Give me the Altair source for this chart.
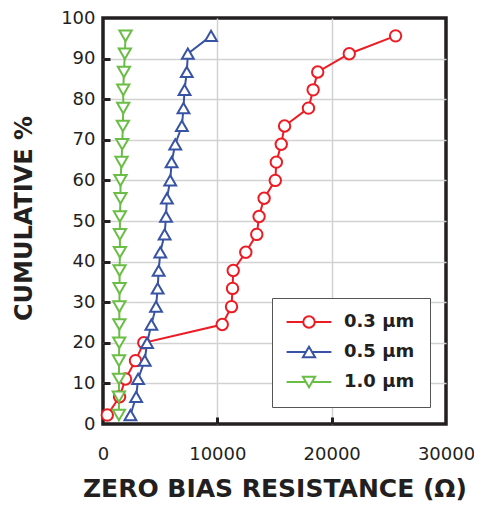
import altair as alt
import pandas as pd

# cumulative percentage (shared by all three series)
cum_pct = [2.2, 6.7, 11.1, 15.6, 20.0, 24.5, 28.9, 33.4, 37.8, 42.3, 46.7,
           51.1, 55.6, 60.0, 64.5, 68.9, 73.4, 77.8, 82.3, 86.7, 91.2, 95.6]
# zero bias resistance (ohm) for each diameter
r_03 = [375, 1450, 1970, 2840, 3565, 10430, 11240, 11330, 11390, 12490, 13450,
        13650, 14090, 15070, 15160, 15590, 15880, 17970, 18380, 18780, 21540, 25590]
r_05 = [2400, 2900, 3070, 3650, 3855, 4230, 4640, 4780, 4870, 5010, 5390,
        5510, 5590, 5880, 6000, 6320, 6900, 7040, 7130, 7330, 7420, 9450]
r_10 = [1390, 1390, 1400, 1400, 1420, 1430, 1430, 1450, 1450, 1480, 1480,
        1480, 1530, 1530, 1620, 1680, 1740, 1770, 1770, 1830, 1910, 1970]

series = ["0.3 μm", "0.5 μm", "1.0 μm"]
colors = ["#ed1c24", "#3953a4", "#6abd45"]
shapes = ["circle", "triangle-up", "triangle-down"]
x_ticks = [0, 10000, 20000, 30000]
y_ticks = [0, 10, 20, 30, 40, 50, 60, 70, 80, 90, 100]

rows = []
for s, vals in zip(series, [r_03, r_05, r_10]):
    for i, (p, r) in enumerate(zip(cum_pct, vals)):
        rows.append({"series": s, "pct": p, "r": r, "idx": i})
df = pd.DataFrame(rows)

INK = "#231f20"
FONT = "DejaVu Sans"

xscale = alt.Scale(domain=[0, 30000], nice=False)
yscale = alt.Scale(domain=[0, 100], nice=False)

edge_x = {"condition": {"test": "datum.value === 0 || datum.value === 30000", "value": 0}, "value": 1}
edge_y = {"condition": {"test": "datum.value === 0 || datum.value === 100", "value": 0}, "value": 1}

x_axis_main = alt.Axis(
    values=x_ticks, format="d", orient="bottom", title="ZERO BIAS RESISTANCE (Ω)",
    labelFont=FONT, labelFontSize=18, labelColor=INK, labelPadding=21, labelFlush=False,
    labelOverlap=False, ticks=False, tickSize=0, domain=False,
    grid=True, gridColor="#d2d2d2", gridWidth=1.5, gridOpacity=edge_x,
    titleFont=FONT, titleFontSize=25, titleFontWeight="bold", titleColor=INK,
    titleY=72, titleBaseline="alphabetic")
y_axis_main = alt.Axis(
    values=y_ticks, format="d", orient="left", title="CUMULATIVE %",
    labelFont=FONT, labelFontSize=18, labelColor=INK, labelPadding=8, labelFlush=False,
    labelOverlap=False, ticks=False, tickSize=0, domain=False,
    grid=True, gridColor="#d2d2d2", gridWidth=1.5, gridOpacity=edge_y,
    titleFont=FONT, titleFontSize=24, titleFontWeight="bold", titleColor=INK,
    titleX=-72, titleY=200, titleAngle=270, titleBaseline="alphabetic", titleAlign="center")

x_axis_ticks = alt.Axis(values=x_ticks[1:-1], orient="bottom", labels=False, title=None,
                        domain=False, grid=False, ticks=True, tickSize=7, tickWidth=3,
                        tickColor=INK, offset=-7)
y_axis_ticks = alt.Axis(values=y_ticks[1:-1], orient="left", labels=False, title=None,
                        domain=False, grid=False, ticks=True, tickSize=7, tickWidth=3,
                        tickColor=INK, offset=-7)

# legend symbols: a line segment with the open marker in the middle
legend_paths = [
    "M-3.2,0H-0.82M0.82,0H3.2M0.82,0A0.82,0.82,0,1,1,-0.82,0A0.82,0.82,0,1,1,0.82,0Z",
    "M-3.2,0H-0.44M0.44,0H3.2M0,-0.76L0.875,0.76L-0.875,0.76Z",
    "M-3.2,0H-0.44M0.44,0H3.2M0,0.76L0.875,-0.76L-0.875,-0.76Z",
]
shape_expr = (f"datum.value === '{series[0]}' ? '{legend_paths[0]}' : "
              f"datum.value === '{series[1]}' ? '{legend_paths[1]}' : '{legend_paths[2]}'")

legend = alt.Legend(
    title=None, orient="none", legendX=169, legendY=280, padding=15, rowPadding=10,
    symbolType=alt.ExprRef(expr=shape_expr), symbolSize=196, symbolStrokeWidth=2,
    symbolOffset=13, symbolFillColor="white",
    labelOffset=26, labelFont=FONT, labelFontWeight="bold", labelFontSize=18,
    labelColor=INK, strokeColor="#555555", fillColor="white", cornerRadius=0)

base = alt.Chart(df)

lines = base.mark_line(strokeWidth=2).encode(
    x=alt.X("r:Q", scale=xscale, axis=x_axis_main),
    y=alt.Y("pct:Q", scale=yscale, axis=y_axis_main),
    color=alt.Color("series:N", scale=alt.Scale(domain=series, range=colors), legend=legend),
    order="idx:Q",
)

# marker scales take their (identical, sorted) domain from the data
points = base.mark_point(filled=False, fill="white", strokeWidth=2, opacity=1).encode(
    x=alt.X("r:Q", scale=xscale, axis=x_axis_ticks),
    y=alt.Y("pct:Q", scale=yscale, axis=y_axis_ticks),
    stroke=alt.Stroke("series:N", scale=alt.Scale(range=colors), legend=None),
    shape=alt.Shape("series:N", scale=alt.Scale(range=shapes), legend=None),
    size=alt.Size("series:N", scale=alt.Scale(range=[130, 150, 150]), legend=None),
)

chart = alt.layer(lines, points).resolve_axis(x="independent", y="independent").properties(
    width=343, height=406,
    padding={"left": 95, "top": 10, "right": 28, "bottom": 81},
    autosize=alt.AutoSizeParams(type="none"),
    background="white",
).configure_view(stroke=INK, strokeWidth=3.5)

chart.save("out.html", embed_options={"renderer": "svg", "actions": False})
